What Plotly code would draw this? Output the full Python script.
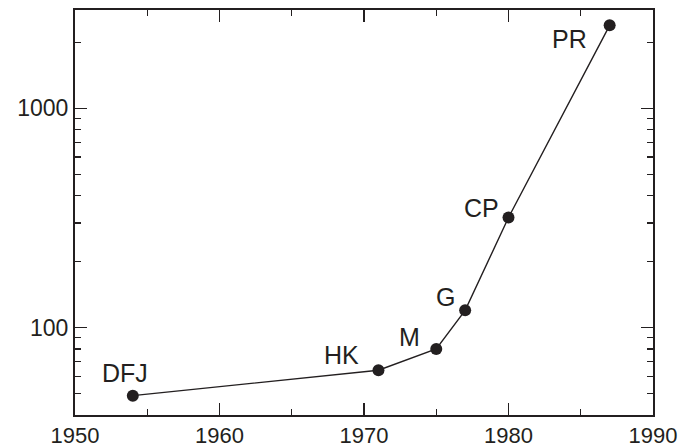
import math
import plotly.graph_objects as go

# Data
years = [1954, 1971, 1975, 1977, 1980, 1987]
cities = [49, 64, 80, 120, 318, 2392]
labels = ["DFJ", "HK", "M", "G", "CP", "PR"]
label_dx = [-8, -37, -27, -20, -27, -40]
label_dy = [23, 15, 12, 13, 10, -14]

x_major = [1950, 1960, 1970, 1980, 1990]
x_minor = [1955, 1965, 1975, 1985]
y_major = [100, 1000]
y_minor = [50, 60, 70, 80, 90, 200, 300, 400, 500, 600, 700, 800, 900, 2000]

INK = "#231f20"
FONT = "Liberation Sans, Arial, sans-serif"
xr = [1950, 1990]
yr = [math.log10(40), math.log10(2810)]

fig = go.Figure()
fig.add_trace(go.Scatter(
    x=years, y=cities, mode="lines+markers",
    line=dict(color=INK, width=1.4),
    marker=dict(color=INK, size=12),
    hoverinfo="skip", showlegend=False,
))
fig.add_trace(go.Scatter(x=[], y=[], xaxis="x2", yaxis="y2",
                         showlegend=False, hoverinfo="skip"))

for x, y, t, dx, dy in zip(years, cities, labels, label_dx, label_dy):
    fig.add_annotation(x=x, y=math.log10(y), text=t, showarrow=False,
                       xanchor="center", yanchor="middle",
                       xshift=dx, yshift=dy,
                       font=dict(family=FONT, size=25, color=INK))

fig.update_layout(
    width=681, height=447,
    margin=dict(l=75, r=28, t=10, b=32),
    paper_bgcolor="white", plot_bgcolor="white",
    font=dict(family=FONT, size=23, color=INK),
    xaxis=dict(range=xr, tickvals=x_major, ticktext=[str(v) for v in x_major],
               ticks="inside", ticklen=12, tickwidth=1.3, tickcolor=INK,
               showline=True, linewidth=2, linecolor=INK, mirror="ticks",
               showgrid=False, zeroline=False, automargin=False,
               tickfont=dict(family=FONT, size=22, color=INK)),
    yaxis=dict(type="log", range=yr, tickvals=y_major,
               ticktext=[str(v) for v in y_major],
               ticks="inside", ticklen=12, tickwidth=1.3, tickcolor=INK,
               showline=True, linewidth=2, linecolor=INK, mirror="ticks",
               showgrid=False, zeroline=False, automargin=False,
               tickfont=dict(family=FONT, size=23, color=INK)),
    xaxis2=dict(range=xr, overlaying="x", anchor="y2", tickvals=x_minor,
                showticklabels=False, ticks="inside", ticklen=6, tickwidth=1.3,
                tickcolor=INK, showline=False, mirror="ticks",
                showgrid=False, zeroline=False, automargin=False),
    yaxis2=dict(type="log", range=yr, overlaying="y", anchor="x2",
                tickvals=y_minor, showticklabels=False, ticks="inside",
                ticklen=6, tickwidth=1.3, tickcolor=INK, showline=False,
                mirror="ticks", showgrid=False, zeroline=False,
                automargin=False),
)

fig.write_html("out.html",
               config={"displayModeBar": False, "staticPlot": True},
               post_script="document.body.style.margin='0';"
                           "document.body.style.padding='0';")
